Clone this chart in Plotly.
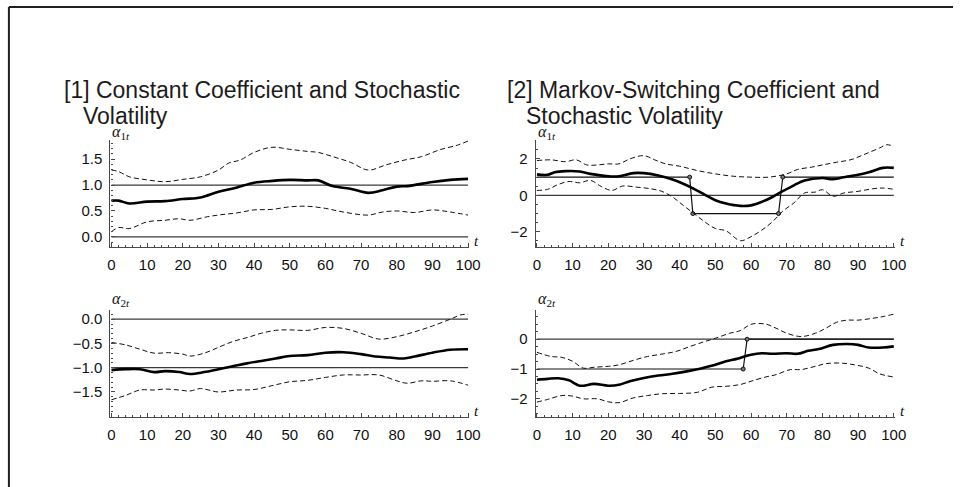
import plotly.graph_objects as go

W, H = 964, 487

# ---------------- data ----------------
# [1] alpha_1t (constant coefficient)
tl_t = [0, 2, 5, 10, 15, 20, 25, 30, 35, 40, 45, 50, 55, 58, 62, 67, 72, 76, 80, 83, 90, 95, 100]
tl_mid = [0.70, 0.70, 0.645, 0.68, 0.69, 0.73, 0.76, 0.87, 0.95, 1.045, 1.08, 1.10, 1.09, 1.09, 0.98, 0.93, 0.85, 0.90, 0.97, 0.98, 1.06, 1.10, 1.12]
tl_up_t = [0, 2, 5, 10, 15, 20, 25, 30, 33, 36, 40, 45, 50, 55, 58, 62, 67, 72, 77, 82, 87, 92, 97, 100]
tl_up = [1.29, 1.26, 1.16, 1.10, 1.065, 1.11, 1.16, 1.29, 1.43, 1.48, 1.63, 1.73, 1.69, 1.65, 1.63, 1.55, 1.44, 1.29, 1.39, 1.48, 1.55, 1.68, 1.77, 1.85]
tl_lo_t = [0, 2, 5, 10, 15, 19, 22, 27, 31, 35, 40, 45, 50, 55, 60, 65, 72, 76, 80, 85, 90, 95, 100]
tl_lo = [0.10, 0.18, 0.16, 0.29, 0.32, 0.35, 0.32, 0.39, 0.43, 0.46, 0.52, 0.53, 0.58, 0.59, 0.55, 0.48, 0.42, 0.48, 0.50, 0.47, 0.52, 0.48, 0.42]
tl_ref = [1.0, 0.0]

# [2] alpha_1t (Markov-switching)
tr_t = [0, 3, 5, 8, 12, 15, 20, 23, 27, 30, 34, 38, 41, 44, 47, 50, 53, 57, 60, 63, 66, 69, 72, 75, 80, 83, 87, 90, 93, 97, 100]
tr_mid = [1.15, 1.13, 1.27, 1.33, 1.31, 1.18, 1.05, 1.05, 1.22, 1.22, 1.09, 0.87, 0.64, 0.36, 0.04, -0.27, -0.45, -0.58, -0.55, -0.36, -0.09, 0.24, 0.55, 0.82, 0.95, 0.89, 1.04, 1.13, 1.27, 1.51, 1.51]
tr_up_t = [0, 4, 8, 11, 14, 17, 20, 23, 26, 30, 33, 36, 40, 45, 50, 55, 60, 65, 70, 73, 77, 80, 84, 88, 92, 96, 98, 100]
tr_up = [1.91, 1.95, 1.85, 1.95, 1.67, 1.67, 1.73, 1.73, 2.0, 2.18, 1.95, 1.73, 1.60, 1.36, 1.18, 1.05, 1.0, 1.0, 1.18, 1.42, 1.55, 1.67, 1.82, 1.96, 2.27, 2.60, 2.78, 2.69]
tr_lo_t = [0, 3, 6, 9, 12, 15, 18, 21, 24, 28, 32, 35, 38, 41, 44, 47, 50, 53, 57, 60, 63, 66, 69, 72, 75, 78, 80, 83, 86, 90, 94, 97, 100]
tr_lo = [0.27, 0.33, 0.60, 0.76, 0.69, 0.82, 0.49, 0.27, 0.51, 0.45, 0.36, 0.22, -0.09, -0.55, -1.0, -1.45, -1.82, -1.95, -2.49, -2.27, -1.91, -1.45, -0.85, -0.42, 0.13, 0.18, 0.31, -0.05, 0.13, 0.22, 0.36, 0.40, 0.33]
tr_reg_t = [0, 42.8, 43.7, 67.7, 68.9, 100]
tr_reg = [1, 1, -1, -1, 1, 1]
tr_ref = [0.0]

# [1] alpha_2t
bl_t = [0, 4, 8, 12, 15, 19, 22, 26, 30, 34, 38, 42, 46, 50, 55, 60, 65, 70, 74, 78, 82, 85, 90, 95, 100]
bl_mid = [-1.05, -1.03, -1.03, -1.09, -1.07, -1.09, -1.13, -1.09, -1.03, -0.97, -0.91, -0.86, -0.81, -0.76, -0.74, -0.69, -0.68, -0.72, -0.77, -0.79, -0.81, -0.77, -0.69, -0.63, -0.62]
bl_up_t = [0, 4, 8, 12, 16, 20, 22, 26, 30, 34, 38, 42, 46, 50, 55, 60, 65, 70, 75, 80, 85, 90, 95, 98, 100]
bl_up = [-0.48, -0.53, -0.62, -0.70, -0.69, -0.72, -0.76, -0.70, -0.58, -0.46, -0.38, -0.29, -0.23, -0.22, -0.23, -0.17, -0.19, -0.29, -0.41, -0.36, -0.26, -0.14, 0.0, 0.09, 0.10]
bl_lo_t = [0, 4, 8, 12, 15, 19, 22, 25, 30, 35, 40, 45, 50, 55, 60, 65, 70, 75, 80, 83, 87, 90, 95, 100]
bl_lo = [-1.66, -1.57, -1.46, -1.46, -1.44, -1.46, -1.48, -1.43, -1.50, -1.46, -1.45, -1.37, -1.29, -1.26, -1.20, -1.15, -1.15, -1.15, -1.27, -1.32, -1.27, -1.28, -1.27, -1.36]
bl_ref = [0.0, -1.0]

# [2] alpha_2t
br_t = [0, 3, 6, 9, 12, 16, 20, 23, 26, 30, 34, 38, 42, 46, 50, 53, 56, 60, 63, 66, 70, 73, 76, 79, 83, 87, 90, 93, 97, 100]
br_mid = [-1.36, -1.33, -1.31, -1.38, -1.56, -1.50, -1.56, -1.53, -1.41, -1.30, -1.22, -1.16, -1.08, -0.98, -0.86, -0.74, -0.66, -0.52, -0.47, -0.49, -0.47, -0.49, -0.39, -0.33, -0.19, -0.16, -0.19, -0.28, -0.28, -0.24]
br_up_t = [0, 4, 7, 10, 13, 16, 20, 23, 27, 31, 35, 39, 43, 47, 50, 54, 57, 60, 64, 67, 70, 74, 78, 81, 84, 87, 90, 94, 97, 100]
br_up = [-0.44, -0.58, -0.61, -0.74, -0.97, -0.94, -0.91, -0.86, -0.71, -0.58, -0.50, -0.41, -0.24, -0.08, 0.03, 0.20, 0.29, 0.50, 0.51, 0.37, 0.20, 0.09, 0.20, 0.37, 0.57, 0.64, 0.64, 0.70, 0.76, 0.84]
br_lo_t = [0, 3, 7, 10, 13, 17, 20, 23, 27, 31, 35, 40, 45, 49, 53, 57, 60, 64, 67, 71, 74, 78, 81, 85, 89, 93, 96, 100]
br_lo = [-2.11, -2.02, -1.89, -1.91, -2.0, -2.0, -2.10, -2.13, -1.97, -1.89, -1.83, -1.82, -1.78, -1.61, -1.58, -1.52, -1.41, -1.27, -1.19, -1.02, -1.02, -0.91, -0.82, -0.80, -0.86, -0.97, -1.16, -1.27]
br_reg_t = [0, 57.8, 58.9, 100]
br_reg = [-1, -1, 0, 0]
br_ref = [0.0]

x_ticks = [0, 10, 20, 30, 40, 50, 60, 70, 80, 90, 100]
tl_yticks = [0.0, 0.5, 1.0, 1.5]
tr_yticks = [-2, 0, 2]
bl_yticks = [-1.5, -1.0, -0.5, 0.0]
br_yticks = [-2, -1, 0, 1]

titles = [
    ("[1] Constant Coefficient and Stochastic", "Volatility"),
    ("[2] Markov-Switching Coefficient and", "Stochastic Volatility"),
]
ylabels = ["<i>α</i><sub>1<i>t</i></sub>", "<i>α</i><sub>1<i>t</i></sub>",
           "<i>α</i><sub>2<i>t</i></sub>", "<i>α</i><sub>2<i>t</i></sub>"]

# ---------------- layout helpers ----------------
def px_x(p):
    return p / W

def px_y(p):
    return 1 - p / H

panels = [
    ("", (109, 473), (140, 246.7), [-0.19, 1.87], tl_yticks, ".1f", 0.1),
    ("2", (540.7, 905), (140, 246.7), [-2.82, 3.04], tr_yticks, "d", 0.5),
    ("3", (109, 473), (310, 416.7), [-2.01, 0.19], bl_yticks, ".1f", 0.1),
    ("4", (540.7, 905), (310, 416.7), [-2.6, 0.98], br_yticks, "d", 0.25),
]

fig = go.Figure()

series = [
    (tl_t, tl_mid, tl_up_t, tl_up, tl_lo_t, tl_lo, tl_ref, None, None),
    (tr_t, tr_mid, tr_up_t, tr_up, tr_lo_t, tr_lo, tr_ref, tr_reg_t, tr_reg),
    (bl_t, bl_mid, bl_up_t, bl_up, bl_lo_t, bl_lo, bl_ref, None, None),
    (br_t, br_mid, br_up_t, br_up, br_lo_t, br_lo, br_ref, br_reg_t, br_reg),
]

axis_col = "#4a4a4a"
ref_col = "#3a3a3a"
dash = "5px,3px"

for (aid, xd, yd, yr, yt, tf, mdt), (mt, mv, ut, uv, lt, lv, refs, rt, rv) in zip(panels, series):
    xa = "x" + aid
    ya = "y" + aid
    for r in refs:
        fig.add_trace(go.Scatter(x=[x_ticks[0], x_ticks[-1]], y=[r, r], mode="lines",
                                 line=dict(color=ref_col, width=1.2), xaxis=xa, yaxis=ya,
                                 showlegend=False, hoverinfo="skip"))
    if rt is not None:
        fig.add_trace(go.Scatter(x=rt, y=rv, mode="lines", line=dict(color="#111", width=1.2),
                                 xaxis=xa, yaxis=ya, showlegend=False))
        fig.add_trace(go.Scatter(x=rt[1:-1], y=rv[1:-1], mode="markers",
                                 marker=dict(size=4, color="#777", line=dict(color="#111", width=1)),
                                 xaxis=xa, yaxis=ya, showlegend=False))
    fig.add_trace(go.Scatter(x=ut, y=uv, mode="lines", line=dict(color="#111", width=1, dash=dash),
                             line_shape="spline", xaxis=xa, yaxis=ya, showlegend=False))
    fig.add_trace(go.Scatter(x=lt, y=lv, mode="lines", line=dict(color="#111", width=1, dash=dash),
                             line_shape="spline", xaxis=xa, yaxis=ya, showlegend=False))
    fig.add_trace(go.Scatter(x=mt, y=mv, mode="lines", line=dict(color="#000", width=2.6),
                             line_shape="spline", xaxis=xa, yaxis=ya, showlegend=False))

    xkey = "xaxis" + aid
    ykey = "yaxis" + aid
    fig.layout[xkey] = dict(
        domain=[px_x(xd[0]), px_x(xd[1])], range=[-0.3, 100.3], anchor=ya,
        showgrid=False, zeroline=False, showline=True, linecolor=axis_col, linewidth=1.3,
        ticks="inside", ticklen=4, tickcolor=axis_col, tickwidth=1,
        tickvals=x_ticks, ticktext=[str(v) for v in x_ticks],
        minor=dict(ticks="inside", ticklen=2, dtick=2, tick0=0, tickcolor=axis_col, showgrid=False),
        tickfont=dict(family="Liberation Sans, Arial", size=15, color="#111"),
        ticklabelstandoff=4, fixedrange=True,
    )
    fig.layout[ykey] = dict(
        domain=[px_y(yd[1]), px_y(yd[0])], range=yr, anchor=xa,
        showgrid=False, zeroline=False, showline=True, linecolor=axis_col, linewidth=1.3,
        ticks="inside", ticklen=4, tickcolor=axis_col, tickwidth=1,
        tickvals=yt, tickformat=tf,
        minor=dict(ticks="inside", ticklen=2, dtick=mdt, tick0=0, tickcolor=axis_col, showgrid=False),
        tickfont=dict(family="Liberation Sans, Arial", size=15, color="#111"),
        ticklabelstandoff=4, fixedrange=True,
    )

annotations = []
title_font = dict(family="Liberation Sans, Arial", size=23, color="#1e1b1c")
for (l1, l2), x1, x2 in zip(titles, [60, 509], [79, 529]):
    annotations.append(dict(text=l1, x=px_x(x1), y=px_y(90), xref="paper", yref="paper",
                            xanchor="left", yanchor="middle", showarrow=False, font=title_font))
    annotations.append(dict(text=l2, x=px_x(x2), y=px_y(116), xref="paper", yref="paper",
                            xanchor="left", yanchor="middle", showarrow=False, font=title_font))
for lab, (xp, yp) in zip(ylabels, [(120, 132), (552, 132), (120, 299), (552, 299)]):
    annotations.append(dict(text=lab, x=px_x(xp), y=px_y(yp), xref="paper", yref="paper",
                            xanchor="center", yanchor="middle", showarrow=False,
                            font=dict(family="Liberation Serif, DejaVu Serif", size=16, color="#111")))
for (xp, yp) in [(480, 241), (913, 241), (480, 411), (913, 411)]:
    annotations.append(dict(text="<i>t</i>", x=px_x(xp), y=px_y(yp), xref="paper", yref="paper",
                            xanchor="center", yanchor="middle", showarrow=False,
                            font=dict(family="Liberation Serif, DejaVu Serif", size=15, color="#111")))

shapes = [
    dict(type="line", xref="paper", yref="paper", x0=px_x(6), x1=1.0, y0=px_y(7), y1=px_y(7),
         line=dict(color="#231f20", width=2)),
    dict(type="line", xref="paper", yref="paper", x0=px_x(6), x1=px_x(6), y0=px_y(7), y1=0,
         line=dict(color="#231f20", width=2)),
]

fig.update_layout(
    width=W, height=H, margin=dict(l=0, r=0, t=0, b=0),
    paper_bgcolor="white", plot_bgcolor="white",
    annotations=annotations, shapes=shapes, showlegend=False,
)

fig.write_html("out.html", config={"displayModeBar": False})
